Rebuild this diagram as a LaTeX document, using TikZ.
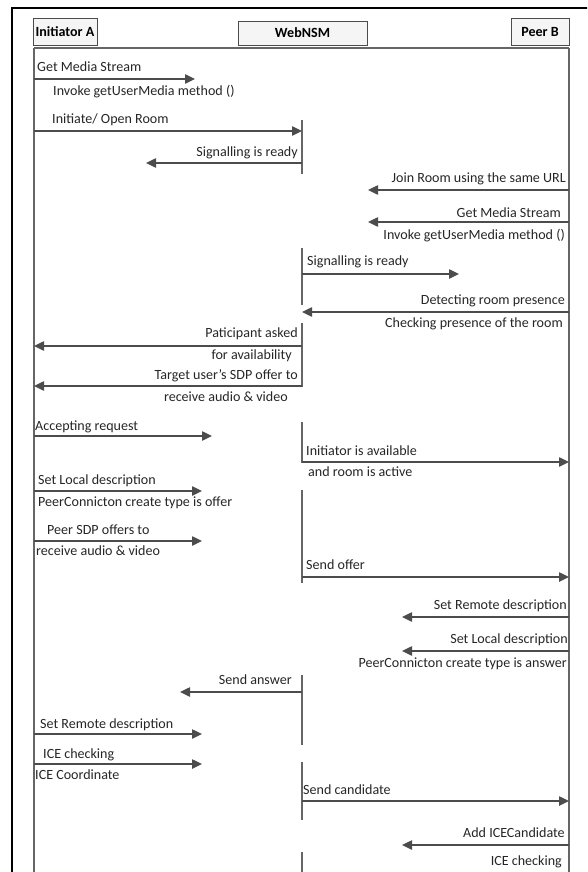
\documentclass[tikz,border=0pt]{standalone}
\usepackage{fontspec}
\setmainfont{Carlito}
\usetikzlibrary{arrows.meta, positioning}

\tikzset{
  hdr/.style={draw=black!70, fill=black!4, line width=0.8pt, inner sep=0pt, font=\bfseries\fontsize{12}{14}\selectfont},
  msg/.style={-{Triangle[length=0.3cm, width=0.28cm]}, draw=black!70, line width=1.2pt},
  life/.style={draw=black!60, line width=0.9pt},
  lbl/.style={inner sep=0pt, text=black!85, font=\fontsize{12}{14}\selectfont},
}

\begin{document}
\begin{tikzpicture}[x=0.03cm, y=-0.03cm]
    \useasboundingbox (0,0) rectangle (587,872);
    \begin{scope}
    \clip (0,0) rectangle (587,872);
    % frame
    \draw[line width=1pt] (12,900) -- (12,8) -- (600,8);

    % participants
    \node[hdr, minimum width=64*0.03cm, minimum height=27*0.03cm] (initA) at (65,31.5) {Initiator A};
    \node[hdr, minimum width=129*0.03cm, minimum height=24*0.03cm] (web) at (302.5,33) {WebNSM};
    \node[hdr, minimum width=58*0.03cm, minimum height=27*0.03cm] (peerB) at (540,31.5) {Peer B};

    % lifelines
    \coordinate (aTop) at (34,48);
    \coordinate (aBot) at (34,900);
    \coordinate (bTop) at (569,48);
    \coordinate (bBot) at (569,900);
    \draw[life] (aTop) -- (bTop);
    \draw[life] (aTop) -- (aBot);
    \draw[life] (bTop) -- (bBot);
    \foreach \ys/\ye in {120/174, 248/305, 323/387, 422/463, 490/583, 675/745, 762/820, 852/900}
        \draw[life] (302,\ys) -- (302,\ye);

    % messages
    \coordinate (s1) at (34,79);   \coordinate (e1) at (195,79);
    \draw[msg] (s1) -- (e1);
    \node[lbl, anchor=west] (l1a) at (37,67) {Get Media Stream};
    \node[lbl, anchor=west] (l1b) at (53,92) {Invoke getUserMedia method ()};

    \coordinate (s2) at (34,131);  \coordinate (e2) at (302,131);
    \draw[msg] (s2) -- (e2);
    \node[lbl, anchor=west] (l2) at (52,120) {Initiate/ Open Room};

    \coordinate (s3) at (302,163); \coordinate (e3) at (146,163);
    \draw[msg] (s3) -- (e3);
    \node[lbl, anchor=east] (l3) at (298,153) {Signalling is ready};

    \coordinate (s4) at (569,190); \coordinate (e4) at (368,190);
    \draw[msg] (s4) -- (e4);
    \node[lbl, anchor=east] (l4) at (566,179) {Join Room using the same URL};

    \coordinate (s5) at (569,222); \coordinate (e5) at (368,222);
    \draw[msg] (s5) -- (e5);
    \node[lbl, anchor=east] (l5a) at (561,213) {Get Media Stream};
    \node[lbl, anchor=east] (l5b) at (565,236) {Invoke getUserMedia method ()};

    \coordinate (s6) at (302,274); \coordinate (e6) at (459,274);
    \draw[msg] (s6) -- (e6);
    \node[lbl, anchor=west] (l6) at (307,262) {Signalling is ready};

    \coordinate (s7) at (569,312); \coordinate (e7) at (302,312);
    \draw[msg] (s7) -- (e7);
    \node[lbl, anchor=east] (l7a) at (565,301) {Detecting room presence};
    \node[lbl, anchor=east] (l7b) at (563,324) {Checking presence of the room};

    \coordinate (s8) at (302,346); \coordinate (e8) at (34,346);
    \draw[msg] (s8) -- (e8);
    \node[lbl, anchor=east] (l8a) at (298,334) {Paticipant asked};
    \node[lbl, anchor=east] (l8b) at (292,356) {for availability};

    \coordinate (s9) at (302,386); \coordinate (e9) at (34,386);
    \draw[msg] (s9) -- (e9);
    \node[lbl, anchor=east] (l9a) at (298,376) {Target user’s SDP offer to};
    \node[lbl, anchor=east] (l9b) at (288,397) {receive audio \& video};

    \coordinate (s10) at (34,436); \coordinate (e10) at (212,436);
    \draw[msg] (s10) -- (e10);
    \node[lbl, anchor=west] (l10) at (35,427) {Accepting request};

    \coordinate (s11) at (302,462); \coordinate (e11) at (569,462);
    \draw[msg] (s11) -- (e11);
    \node[lbl, anchor=west] (l11a) at (306,451) {Initiator is available};
    \node[lbl, anchor=west] (l11b) at (308,472) {and room is active};

    \coordinate (s12) at (34,491); \coordinate (e12) at (202,491);
    \draw[msg] (s12) -- (e12);
    \node[lbl, anchor=west] (l12a) at (38,481) {Set Local description};
    \node[lbl, anchor=west] (l12b) at (38,503) {PeerConnicton create type is offer};

    \coordinate (s13) at (34,541); \coordinate (e13) at (202,541);
    \draw[msg] (s13) -- (e13);
    \node[lbl, anchor=west] (l13a) at (47,530) {Peer SDP offers to};
    \node[lbl, anchor=west] (l13b) at (36,551) {receive audio \& video};

    \coordinate (s14) at (302,577); \coordinate (e14) at (569,577);
    \draw[msg] (s14) -- (e14);
    \node[lbl, anchor=west] (l14) at (306,565) {Send offer};

    \coordinate (s15) at (569,617); \coordinate (e15) at (402,617);
    \draw[msg] (s15) -- (e15);
    \node[lbl, anchor=east] (l15) at (567,606) {Set Remote description};

    \coordinate (s16) at (569,651); \coordinate (e16) at (402,651);
    \draw[msg] (s16) -- (e16);
    \node[lbl, anchor=east] (l16a) at (568,640) {Set Local description};
    \node[lbl, anchor=east] (l16b) at (567,664) {PeerConnicton create type is answer};

    \coordinate (s17) at (302,692); \coordinate (e17) at (180,692);
    \draw[msg] (s17) -- (e17);
    \node[lbl, anchor=east] (l17) at (292,680) {Send answer};

    \coordinate (s18) at (34,734); \coordinate (e18) at (202,734);
    \draw[msg] (s18) -- (e18);
    \node[lbl, anchor=west] (l18) at (40,725) {Set Remote description};

    \coordinate (s19) at (34,764); \coordinate (e19) at (202,764);
    \draw[msg] (s19) -- (e19);
    \node[lbl, anchor=west] (l19a) at (43,755) {ICE checking};
    \node[lbl, anchor=west] (l19b) at (35,775) {ICE Coordinate};

    \coordinate (s20) at (302,801); \coordinate (e20) at (569,801);
    \draw[msg] (s20) -- (e20);
    \node[lbl, anchor=west] (l20) at (303,790) {Send candidate};

    \coordinate (s21) at (569,845); \coordinate (e21) at (402,845);
    \draw[msg] (s21) -- (e21);
    \node[lbl, anchor=east] (l21) at (565,833) {Add ICECandidate};

    \node[lbl, anchor=east] (l22) at (562,862) {ICE checking};
    \end{scope}
\end{tikzpicture}
\end{document}
